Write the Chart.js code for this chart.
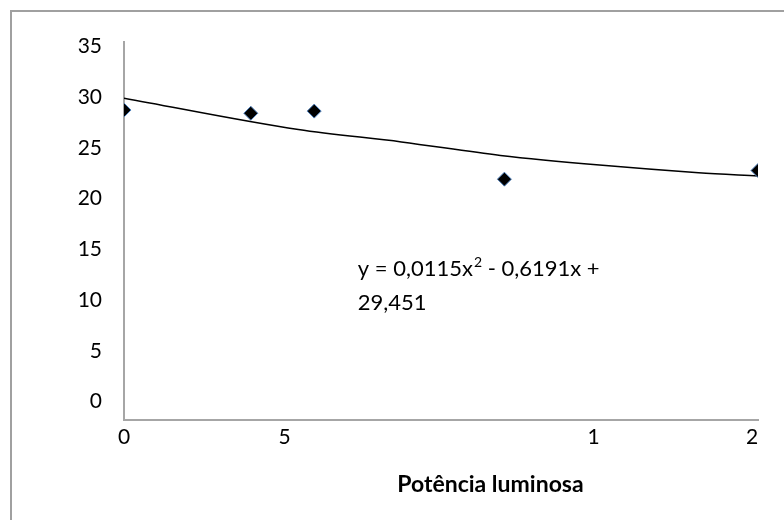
<!DOCTYPE html>
<html>
<head>
<meta charset="utf-8">
<script src="https://cdn.jsdelivr.net/npm/chart.js@4"></script>
<style>
  html, body { margin: 0; padding: 0; background: #fff; overflow: hidden; }
  #wrap { width: 784px; height: 520px; position: relative; }
</style>
</head>
<body>
<div id="wrap"><canvas id="chart" width="784" height="520"></canvas></div>
<script>
// measured points
const pointX = [0, 3.2, 4.8, 9.6, 16];
const pointY = [28.7, 28.4, 28.6, 22.3, 23.1];

// trendline
const trendX = [0, 4.4, 7, 9.5, 12, 14.5, 16];
const trendY = [29.8, 26.9, 25.75, 24.5, 23.6, 22.9, 22.6];

// ticks where they sit in the picture
const xTickAt = [0, 4.05, 11.85, 15.85];
const xTickLabels = ['0', '5', '1', '2'];
const yTickAt = [1.7, 6.4, 11.1, 15.8, 20.5, 25.2, 29.9, 34.6];
const yTickLabels = ['0', '5', '10', '15', '20', '25', '30', '35'];

const xTitle = 'Potência luminosa';
const eqLine1 = 'y = 0,0115x';
const eqSup = '2';
const eqLine1b = ' - 0,6191x +';
const eqLine2 = '29,451';

const FONT = 'Lato, "Open Sans", sans-serif';

const framePlugin = {
    id: 'frame',
    beforeDraw(chart) {
        const c = chart.ctx;
        c.save();
        c.strokeStyle = '#a0a0a0';
        c.lineWidth = 2;
        c.strokeRect(11, 11, 900, 900);
        c.restore();
    }
};

const textPlugin = {
    id: 'texts',
    afterDraw(chart) {
        const c = chart.ctx;
        const area = chart.chartArea;
        c.save();
        c.fillStyle = '#000';

        // trendline equation
        const x = chart.scales.x.getPixelForValue(5.9);
        const y = chart.scales.y.getPixelForValue(13.3);
        c.textBaseline = 'alphabetic';
        c.textAlign = 'left';
        c.font = '22px ' + FONT;
        c.fillText(eqLine1, x, y);
        let w = c.measureText(eqLine1).width;
        c.font = '14px ' + FONT;
        c.fillText(eqSup, x + w + 1, y - 9);
        w += c.measureText(eqSup).width + 1;
        c.font = '22px ' + FONT;
        c.fillText(eqLine1b, x + w, y);
        c.fillText(eqLine2, x, y + 34);

        // axis title
        c.font = 'bold 23px ' + FONT;
        c.textAlign = 'center';
        c.textBaseline = 'middle';
        c.fillText(xTitle, area.left + (area.right - area.left) * 0.578, area.bottom + 65);
        c.restore();
    }
};

new Chart(document.getElementById('chart'), {
    type: 'scatter',
    data: {
        datasets: [
            {
                label: 'Dados',
                data: pointX.map((v, i) => ({ x: v, y: pointY[i] })),
                pointStyle: 'rectRot',
                pointRadius: 7,
                backgroundColor: '#000',
                borderColor: '#4f81bd',
                borderWidth: 1,
                order: 1
            },
            {
                label: 'Tendência',
                type: 'line',
                data: trendX.map((v, i) => ({ x: v, y: trendY[i] })),
                borderColor: '#000',
                borderWidth: 1.5,
                pointRadius: 0,
                cubicInterpolationMode: 'monotone',
                fill: false,
                order: 2
            }
        ]
    },
    options: {
        responsive: false,
        animation: false,
        layout: { padding: { left: 0, top: 42, right: 26, bottom: 0 } },
        plugins: { legend: { display: false }, tooltip: { enabled: false } },
        scales: {
            x: {
                type: 'linear',
                min: 0,
                max: 16,
                afterBuildTicks: s => { s.ticks = xTickAt.map(v => ({ value: v })); },
                afterFit: s => { s.height = 100; },
                grid: { display: false, drawTicks: false },
                border: { color: '#a6a6a6', width: 2 },
                ticks: {
                    color: '#000',
                    font: { family: FONT, size: 21 },
                    padding: 5,
                    maxRotation: 0,
                    autoSkip: false,
                    callback: (v, i) => xTickLabels[i]
                }
            },
            y: {
                min: 0,
                max: 35,
                afterBuildTicks: s => { s.ticks = yTickAt.map(v => ({ value: v })); },
                afterFit: s => { s.width = 124; },
                grid: { display: false, drawTicks: false },
                border: { color: '#a6a6a6', width: 2 },
                ticks: {
                    color: '#000',
                    font: { family: FONT, size: 21 },
                    padding: 22,
                    autoSkip: false,
                    callback: (v, i) => yTickLabels[i]
                }
            }
        }
    },
    plugins: [framePlugin, textPlugin]
});
</script>
</body>
</html>
